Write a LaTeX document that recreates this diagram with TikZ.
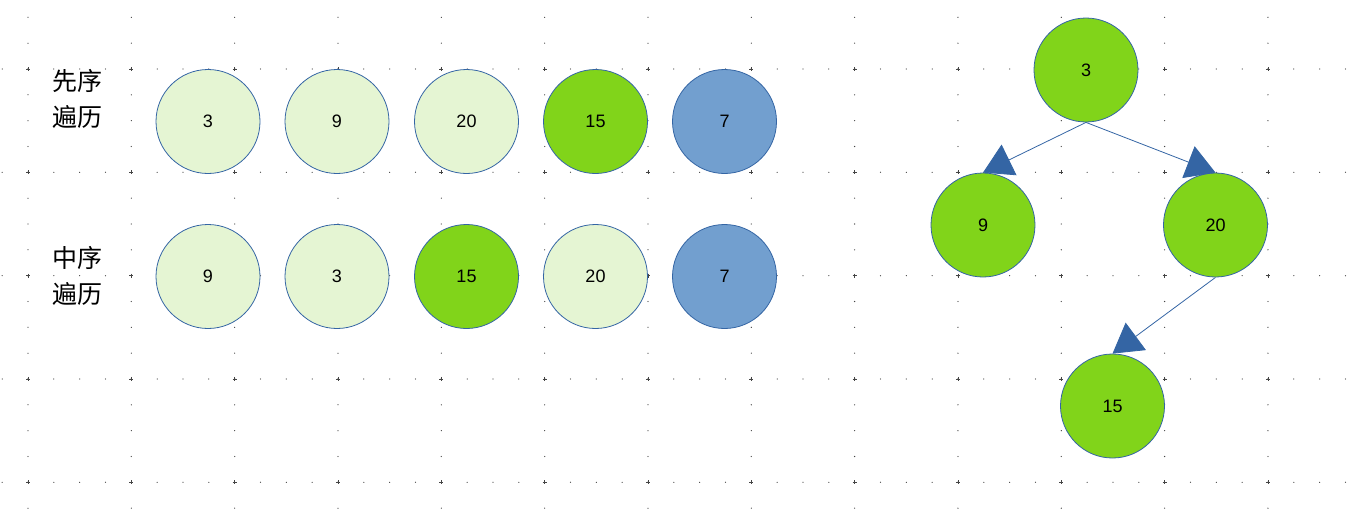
\documentclass[tikz,border=0pt]{standalone}
\usepackage{fontspec}
\setmainfont{Liberation Sans}
\newfontfamily\cjk{Noto Sans CJK SC}
\usetikzlibrary{arrows.meta}
\definecolor{edgeblue}{HTML}{3465A4}
\definecolor{palegreen}{HTML}{E5F5D3}
\definecolor{brightgreen}{HTML}{81D41A}
\definecolor{softblue}{HTML}{729FCF}
\definecolor{dotgray}{HTML}{444444}
\tikzset{
  ball/.style={circle, draw=edgeblue, line width=0.8pt, minimum size=104pt, inner sep=0pt, font=\fontsize{18}{20}\selectfont},
  pale/.style={ball, fill=palegreen},
  bright/.style={ball, fill=brightgreen},
  cool/.style={ball, fill=softblue},
  lbl/.style={anchor=west, inner sep=0pt, align=left, font=\cjk\fontsize{25}{36}\selectfont},
  link/.style={draw=edgeblue, line width=0.8pt, -{Triangle[length=29pt,width=34pt]}, shorten <=0pt}
}
\begin{document}
\begin{tikzpicture}[x=1pt,y=-1pt]
\useasboundingbox (0,0) rectangle (1353,528);
% dotted grid
\foreach \r in {0,...,4}{
  \foreach \i in {0,...,52}{
    \fill[dotgray] ({2.17+\i*25.833},{69+\r*103.33}) circle (0.65);
  }
}
\foreach \c in {0,...,12}{
  \foreach \j in {0,...,19}{
    \fill[dotgray] ({28+\c*103.33},{17.33+\j*25.833}) circle (0.65);
  }
}
\foreach \c in {0,...,12}{
  \foreach \r in {0,...,4}{
    \draw[dotgray, line width=0.6pt] ({28+\c*103.33-2},{69+\r*103.33}) -- ++(4,0)
      ({28+\c*103.33},{69+\r*103.33-2}) -- ++(0,4);
  }
}
% labels
\node[lbl] (pre) at (52,99) {先序\\遍历};
\node[lbl] (in) at (52,276) {中序\\遍历};
% preorder row
\node[pale] (p1) at (208,121.5) {3};
\node[pale] (p2) at (337,121.5) {9};
\node[pale] (p3) at (466.5,121.5) {20};
\node[bright] (p4) at (595.5,121.5) {15};
\node[cool] (p5) at (724.5,121.5) {7};
% inorder row
\node[pale] (q1) at (208,276.5) {9};
\node[pale] (q2) at (337,276.5) {3};
\node[bright] (q3) at (466.5,276.5) {15};
\node[pale] (q4) at (595.5,276.5) {20};
\node[cool] (q5) at (724.5,276.5) {7};
% tree
\node[bright] (t3) at (1086,70) {3};
\node[bright] (t9) at (983,225) {9};
\node[bright] (t20) at (1215.5,225) {20};
\node[bright] (t15) at (1112.5,406) {15};
\draw[link] (t3.south) -- (t9.north);
\draw[link] (t3.south) -- (t20.north);
\draw[link] (t20.south) -- (t15.north);
\end{tikzpicture}
\end{document}
